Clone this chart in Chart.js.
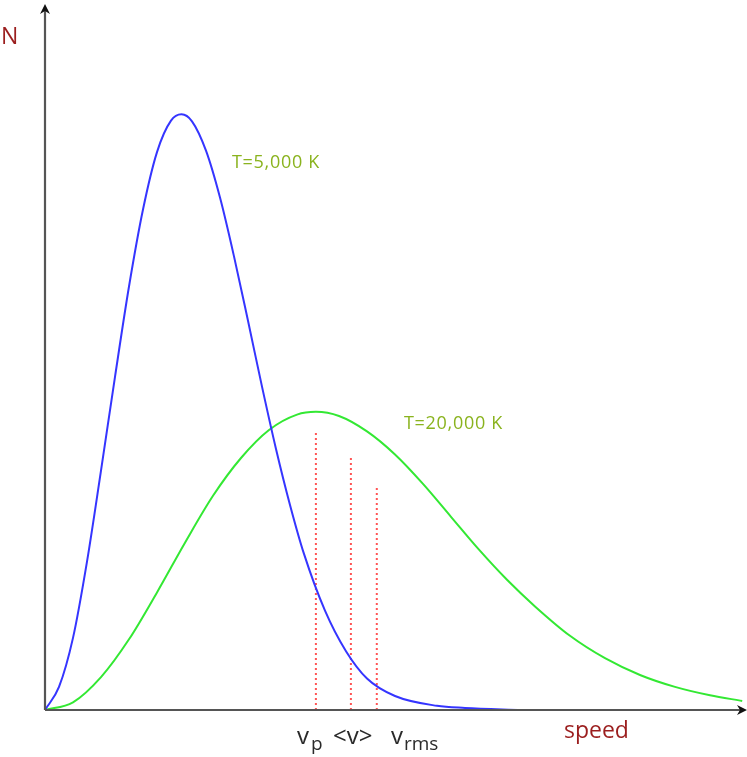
<!DOCTYPE html>
<html>
<head>
<meta charset="utf-8">
<script src="https://cdn.jsdelivr.net/npm/chart.js@4.4.1/dist/chart.umd.min.js"></script>
<style>
  body { margin: 0; background: #fff; }
  canvas { display: block; }
</style>
</head>
<body>
<canvas id="mb" width="747" height="757"></canvas>
<script>
// courbes (vitesse, N) - unités arbitraires 0..100
const speedCold = [0, 2, 4, 6, 8, 10, 12, 14, 16, 18, 19.5, 21, 23, 25, 27, 29, 31, 33, 35, 37, 40, 43, 46, 50, 56, 60, 68];
const nCold = [0, 3.3, 10.3, 21.2, 34.2, 47.6, 60.5, 71.5, 79.7, 84.2, 85.1, 84.1, 79.9, 73.2, 64.8, 55.6, 46.2, 37.3, 29.3, 22.3, 14.2, 8.4, 4.5, 2.0, 0.6, 0.3, 0];

const speedHot = [0, 4, 8, 12, 16, 20, 24, 28, 32, 36, 38.7, 42, 46, 50, 54, 58, 62, 66, 70, 75, 80, 85, 90, 95, 99.6];
const nHot = [0, 1.1, 4.7, 10.1, 16.8, 23.9, 30.6, 36.0, 40.0, 42.2, 42.6, 42.0, 39.8, 36.5, 32.3, 27.6, 22.9, 18.6, 14.8, 10.6, 7.4, 5.0, 3.3, 2.1, 1.3];

// vp, <v>, vrms (lignes pointillées rouges)
const markSpeed = [38.7, 43.7, 47.4];
const markTop = [39.7, 36.0, 31.7];

function toPoints(xs, ys) {
  return xs.map((x, i) => ({ x: x, y: ys[i] }));
}

const FONT = '"Open Sans", sans-serif';
const DARKRED = '#9b1e1e';
const OLIVE = '#8ab31e';

const datasets = [
  {
    data: toPoints(speedCold, nCold),
    borderColor: '#3535ff',
    borderWidth: 2,
    cubicInterpolationMode: 'monotone'
  },
  {
    data: toPoints(speedHot, nHot),
    borderColor: '#33e833',
    borderWidth: 2,
    cubicInterpolationMode: 'monotone'
  }
];

// une petite ligne verticale par marque
markSpeed.forEach((s, i) => {
  datasets.push({
    data: [{ x: s, y: 0 }, { x: s, y: markTop[i] }],
    borderColor: '#ff5555',
    borderWidth: 2,
    borderDash: [2, 3]
  });
});

// axes avec flèches + textes
const axesAndText = {
  id: 'axesAndText',
  afterDatasetsDraw(chart) {
    const ctx = chart.ctx;
    const xs = chart.scales.x, ys = chart.scales.y;
    const x0 = xs.getPixelForValue(0), y0 = ys.getPixelForValue(0);
    const area = chart.chartArea;
    ctx.save();

    ctx.strokeStyle = '#555';
    ctx.fillStyle = '#111';
    ctx.lineWidth = 2.2;
    ctx.beginPath();
    ctx.moveTo(x0, y0);
    ctx.lineTo(area.right - 4, y0);
    ctx.moveTo(x0, y0);
    ctx.lineTo(x0, area.top - 2);
    ctx.stroke();

    // flèche x
    ctx.beginPath();
    ctx.moveTo(area.right + 2, y0);
    ctx.lineTo(area.right - 8, y0 - 5);
    ctx.lineTo(area.right - 5, y0);
    ctx.lineTo(area.right - 8, y0 + 5);
    ctx.closePath();
    ctx.fill();
    // flèche y
    ctx.beginPath();
    ctx.moveTo(x0, area.top - 6);
    ctx.lineTo(x0 - 5, area.top + 4);
    ctx.lineTo(x0, area.top + 1);
    ctx.lineTo(x0 + 5, area.top + 4);
    ctx.closePath();
    ctx.fill();

    ctx.textBaseline = 'alphabetic';
    ctx.textAlign = 'left';

    ctx.fillStyle = DARKRED;
    ctx.font = '23px ' + FONT;
    ctx.fillText('N', 1, 44);
    ctx.fillText('speed', 564, 738);

    ctx.fillStyle = OLIVE;
    ctx.font = '18px ' + FONT;
    ctx.letterSpacing = '0.7px';
    ctx.fillText('T=5,000 K', 232, 168);
    ctx.fillText('T=20,000 K', 404, 429);
    ctx.letterSpacing = '0px';

    // vp  <v>  vrms
    ctx.fillStyle = '#2a2a2a';
    const big = '24px ' + FONT, small = '19px ' + FONT;
    const base = 744;
    ctx.font = big;
    ctx.fillText('v', 297, base);
    ctx.font = small;
    ctx.fillText('p', 311, base + 6);
    ctx.font = big;
    ctx.fillText('<v>', 333, base);
    ctx.fillText('v', 391, base);
    ctx.font = small;
    ctx.fillText('rms', 404, base + 6);

    ctx.restore();
  }
};

function draw() {
  new Chart(document.getElementById('mb'), {
    type: 'scatter',
    data: { datasets: datasets },
    options: {
      responsive: false,
      animation: false,
      showLine: true,
      layout: { padding: { left: 45, right: 2, top: 10, bottom: 47 } },
      elements: { point: { radius: 0 } },
      plugins: {
        legend: { display: false },
        tooltip: { enabled: false },
        title: { display: false }
      },
      scales: {
        x: { type: 'linear', min: 0, max: 100, display: false },
        y: { type: 'linear', min: 0, max: 100, display: false }
      }
    },
    plugins: [axesAndText]
  });
}

// on attend la police avant de dessiner
document.fonts.load('20px "Open Sans"').then(draw, draw);
</script>
</body>
</html>
